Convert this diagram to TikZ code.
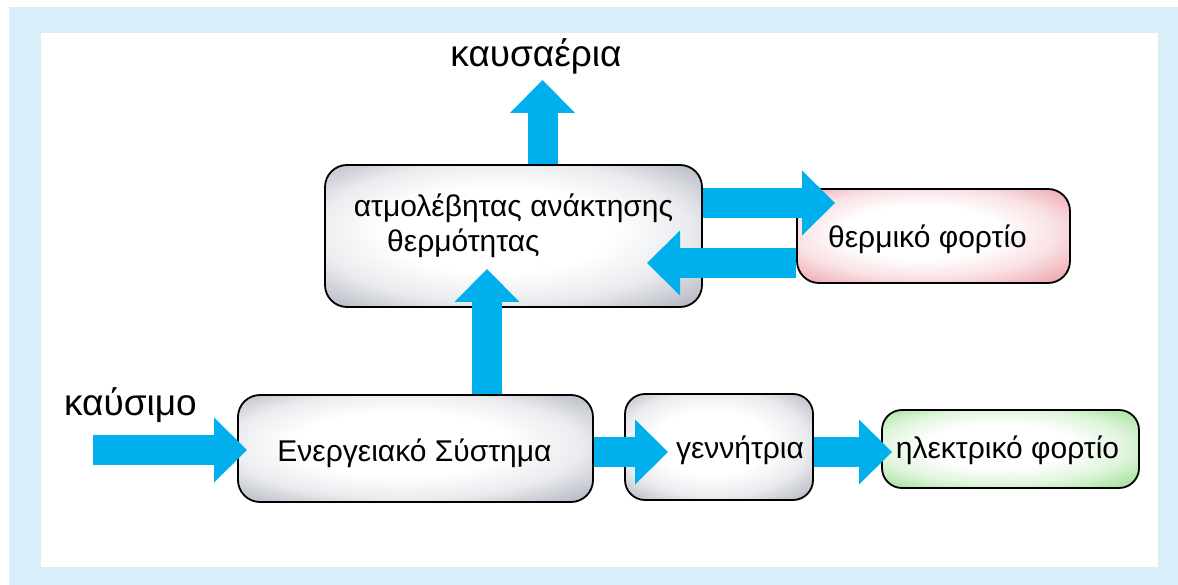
\documentclass[tikz,border=0pt]{standalone}
\usepackage{fontspec}
\setmainfont{Liberation Sans}
\usetikzlibrary{arrows.meta}

\definecolor{flowblue}{RGB}{0,176,236}
\definecolor{framebg}{RGB}{218,238,249}
\definecolor{glowgrey}{RGB}{172,176,188}
\definecolor{glowdark}{RGB}{112,115,125}
\definecolor{glowpink}{RGB}{236,156,166}
\definecolor{glowpinkdark}{RGB}{192,112,122}
\definecolor{glowgreen}{RGB}{152,222,142}
\definecolor{glowgreendark}{RGB}{102,170,96}

% soft inner glow for the boxes, slightly darker towards the lower right
\pgfdeclareradialshading{greyglow}{\pgfpoint{-3bp}{3bp}}{%
  color(0bp)=(white); color(15bp)=(white); color(25bp)=(glowgrey!25!white);
  color(32bp)=(glowgrey!70!white); color(37bp)=(glowgrey); color(45bp)=(glowdark);
  color(50bp)=(glowdark)}
\pgfdeclareradialshading{pinkglow}{\pgfpoint{-3bp}{3bp}}{%
  color(0bp)=(white); color(14bp)=(white); color(24bp)=(glowpink!30!white);
  color(32bp)=(glowpink!75!white); color(37bp)=(glowpink); color(45bp)=(glowpinkdark);
  color(50bp)=(glowpinkdark)}
\pgfdeclareradialshading{greenglow}{\pgfpoint{-3bp}{3bp}}{%
  color(0bp)=(white); color(14bp)=(white); color(24bp)=(glowgreen!30!white);
  color(32bp)=(glowgreen!75!white); color(37bp)=(glowgreen); color(45bp)=(glowgreendark);
  color(50bp)=(glowgreendark)}

\tikzset{
  box/.style={draw=black, line width=1.8pt, rounded corners=22pt, inner sep=0pt},
  boxtext/.style={font=\fontsize{30}{36}\selectfont, inner sep=0pt, anchor=base},
  outertext/.style={font=\fontsize{37}{44}\selectfont, inner sep=0pt, anchor=base},
  flow/.style={draw=flowblue, line width=30pt,
    -{Triangle[width=65pt,length=33pt,line width=0pt]}},
}

\begin{document}
\begin{tikzpicture}[x=1pt,y=-1pt]
  \useasboundingbox (0,0) rectangle (1178,585);
  % frame and white sheet
  \fill[framebg] (9,7) rectangle (1178,585);
  \fill[white] (41,33) rectangle (1158,567);

  % boxes
  \node[box, shading=greyglow, minimum width=377pt, minimum height=142pt] (heat) at (513.5,236) {};
  \node[box, shading=pinkglow, minimum width=273pt, minimum height=94pt] (thermal) at (933.5,236) {};
  \node[box, shading=greyglow, minimum width=355pt, minimum height=107pt] (energy) at (415.5,448.5) {};
  \node[box, shading=greyglow, rounded corners=20pt, minimum width=188pt, minimum height=106pt] (gen) at (719,447) {};
  \node[box, shading=greenglow, rounded corners=20pt, minimum width=257pt, minimum height=78pt] (elec) at (1010.5,449) {};

  % box texts
  \node[boxtext] (heatA) at (513.5,217) {ατμολέβητας ανάκτησης};
  \node[boxtext, anchor=base west] (heatB) at (387,252) {θερμότητας};
  \node[boxtext] (thermalT) at (927.5,248) {θερμικό φορτίο};
  \node[boxtext] (energyT) at (414.5,461) {Ενεργειακό Σύστημα};
  \node[boxtext] (genT) at (740,458) {γεννήτρια};
  \node[boxtext] (elecT) at (1007.5,458) {ηλεκτρικό φορτίο};

  % outer labels
  \node[outertext] (exhaust) at (536,67) {καυσαέρια};
  \node[outertext] (fuel) at (130.5,415) {καύσιμο};

  % flows
  \coordinate (exhaustTip) at (542.5,80);
  \coordinate (riseTip) at (487,269);
  \coordinate (heatOutTip) at (835,203);
  \coordinate (returnTip) at (647,263);
  \coordinate (fuelStart) at (93,450);
  \coordinate (fuelTip) at (247,450);
  \coordinate (genTip) at (668,452);
  \coordinate (elecTip) at (892,452);

  \draw[flow] (heat.north -| exhaustTip) -- (exhaustTip);
  \draw[flow] (energy.north -| riseTip) -- (riseTip);
  \draw[flow] (heat.east |- heatOutTip) -- (heatOutTip);
  \draw[flow] (thermal.west |- returnTip) -- (returnTip);
  \draw[flow] (fuelStart) -- (fuelTip);
  \draw[flow] (energy.east |- genTip) -- (genTip);
  \draw[flow] (gen.east |- elecTip) -- (elecTip);
\end{tikzpicture}
\end{document}
